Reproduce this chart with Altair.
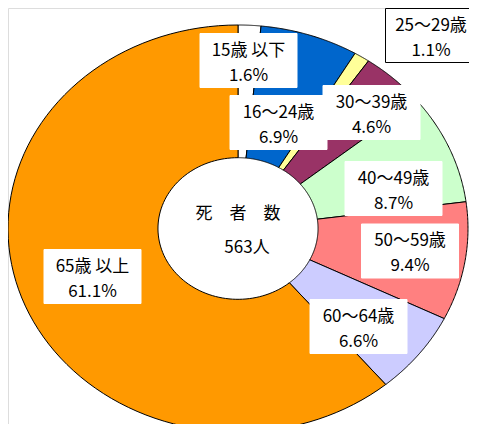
import altair as alt
import pandas as pd

# ---- data ----
categories = ["15歳 以下", "16～24歳", "25～29歳", "30～39歳",
              "40～49歳", "50～59歳", "60～64歳", "65歳 以上"]
shares = [1.6, 6.9, 1.1, 4.6, 8.7, 9.4, 6.6, 61.1]
slice_colors = ["#FFFFFF", "#0066CC", "#FFFF99", "#993366",
                "#CCFFCC", "#FF8080", "#CCCCFF", "#FF9900"]
center_title = "死　者　数"
center_total = "563人"

# ---- layout (screen pixels of the 477x432 page) ----
CX, CY, RX, RY = 238.0, 228.5, 230.0, 203.5
HOLE = 0.348
NPTS = 90
label_x = [248.5, 278.5, 431.0, 371.5, 393.5, 410.0, 358.5, 92.5]
label_y = [60.5, 122.5, 35.5, 112.5, 188.5, 251.0, 326.5, 276.5]
box_w = [97, 97, 91, 97, 97, 97, 97, 97]
box_outline = [0, 0, 1, 0, 0, 0, 0, 0]
FONT = "Noto Sans CJK JP"
FS = 17

W, H = 461, 416
xs = alt.Scale(domain=[8, 8 + W], nice=False, zero=False)
ys = alt.Scale(domain=[8 + H, 8], nice=False, zero=False)

df = pd.DataFrame({
    "idx": list(range(len(categories))),
    "cat": categories,
    "value": shares,
    "col": slice_colors,
    "lx": label_x,
    "ly": label_y,
    "bw": box_w,
    "outline": box_outline,
})

base = alt.Chart(df)

n = NPTS
slices = (
    base.transform_window(cum="sum(value)", sort=[alt.SortField("idx")], frame=[None, 0])
    .transform_calculate(start="datum.cum - datum.value", end="datum.cum")
    .transform_calculate(pts=f"sequence(0, {2 * n + 3})")
    .transform_flatten(["pts"], as_=["k"])
    .transform_calculate(
        frac=f"datum.k <= {n} ? datum.start + (datum.end - datum.start) * datum.k / {n}"
             f" : (datum.k <= {2 * n + 1} ? datum.end - (datum.end - datum.start) * (datum.k - {n + 1}) / {n}"
             f" : datum.start)",
        r=f"(datum.k <= {n} || datum.k > {2 * n + 1}) ? 1 : {HOLE}",
    )
    .transform_calculate(
        px=f"{CX} + {RX} * datum.r * sin(datum.frac / 100 * 2 * PI)",
        py=f"{CY} - {RY} * datum.r * cos(datum.frac / 100 * 2 * PI)",
    )
    .mark_line(stroke="black", strokeWidth=1, strokeJoin="miter")
    .encode(
        x=alt.X("px:Q", scale=xs, axis=None),
        y=alt.Y("py:Q", scale=ys, axis=None),
        fill=alt.Fill("col:N", scale=None, legend=None),
        detail="cat:N",
        order="k:Q",
    )
)

boxes = (
    base.transform_calculate(
        x1="datum.lx - datum.bw / 2", x2="datum.lx + datum.bw / 2",
        y1="datum.ly - 27", y2="datum.ly + 27",
        sc="datum.outline ? 'black' : 'white'",
    )
    .mark_rect(fill="white", strokeWidth=1)
    .encode(
        x=alt.X("x1:Q", scale=xs, axis=None),
        x2="x2:Q",
        y=alt.Y("y1:Q", scale=ys, axis=None),
        y2="y2:Q",
        stroke=alt.Stroke("sc:N", scale=None, legend=None),
    )
)

line1 = (
    base.transform_calculate(ty="datum.ly - 10")
    .mark_text(font=FONT, fontSize=FS, color="black", baseline="middle", align="center")
    .encode(
        x=alt.X("lx:Q", scale=xs, axis=None),
        y=alt.Y("ty:Q", scale=ys, axis=None),
        text="cat:N",
    )
)

line2 = (
    base.transform_calculate(ty="datum.ly + 15", pct="format(datum.value, '.1f') + '%'")
    .mark_text(font=FONT, fontSize=FS, color="black", baseline="middle", align="center")
    .encode(
        x=alt.X("lx:Q", scale=xs, axis=None),
        y=alt.Y("ty:Q", scale=ys, axis=None),
        text="pct:N",
    )
)

center_df = pd.DataFrame({"t": [center_title, center_total],
                          "x": [238, 247], "y": [214, 248]})
center = (
    alt.Chart(center_df)
    .mark_text(font=FONT, fontSize=FS, color="black", baseline="middle", align="center")
    .encode(
        x=alt.X("x:Q", scale=xs, axis=None),
        y=alt.Y("y:Q", scale=ys, axis=None),
        text="t:N",
    )
)

chart = (
    alt.layer(slices, boxes, line1, line2, center)
    .properties(width=W, height=H, padding=0, autosize=alt.AutoSizeParams(type="none"))
    .configure_view(stroke=None)
    .configure(background="white")
)

chart.save("out.html", embed_options={"renderer": "svg", "actions": False})
